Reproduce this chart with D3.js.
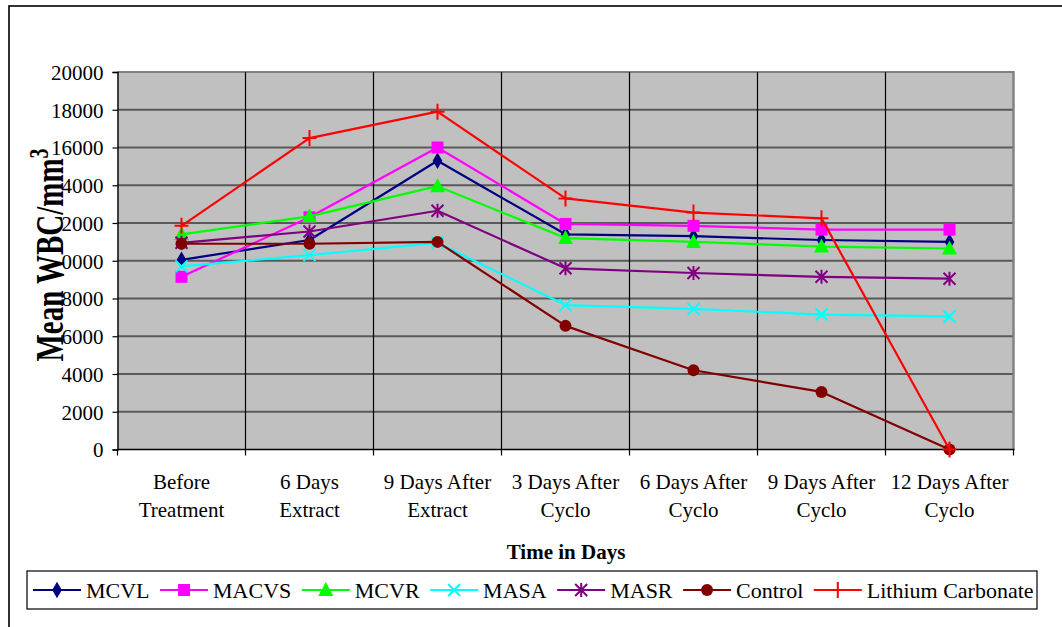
<!DOCTYPE html>
<html>
<head>
<meta charset="utf-8">
<script src="https://cdn.jsdelivr.net/npm/d3@7"></script>
<style>
  html, body { margin: 0; padding: 0; background: #fff; }
  svg { display: block; }
  text { font-family: "Liberation Serif", "Times New Roman", serif; fill: #000; }
</style>
</head>
<body>
<svg id="chart" width="1062" height="627"></svg>
<script>
// Time points on the x axis (two-line labels)
const categories = [
  ["Before", "Treatment"],
  ["6 Days", "Extract"],
  ["9 Days After", "Extract"],
  ["3 Days After", "Cyclo"],
  ["6 Days After", "Cyclo"],
  ["9 Days After", "Cyclo"],
  ["12 Days After", "Cyclo"]
];

// Mean WBC counts per group
const mcvl     = [10050, 11100, 15300, 11400, 11300, 11100, 11000];
const macvs    = [9150, 12300, 16000, 11950, 11850, 11650, 11650];
const mcvr     = [11400, 12350, 13950, 11200, 11000, 10750, 10650];
const masa     = [9700, 10300, 10950, 7650, 7450, 7150, 7050];
const masr     = [10950, 11550, 12650, 9600, 9350, 9150, 9050];
const control  = [10900, 10900, 11000, 6550, 4200, 3050, 0];
const lithium  = [11850, 16500, 17900, 13300, 12550, 12250, 0];

const yTicks = [0, 2000, 4000, 6000, 8000, 10000, 12000, 14000, 16000, 18000, 20000];
const yTickLabels = ["0", "2000", "4000", "6000", "8000", "10000", "12000", "14000", "16000", "18000", "20000"];

const series = [
  { name: "MCVL", values: mcvl, color: "#000080", marker: "diamond" },
  { name: "MACVS", values: macvs, color: "#FF00FF", marker: "square" },
  { name: "MCVR", values: mcvr, color: "#00FF00", marker: "triangle" },
  { name: "MASA", values: masa, color: "#00FFFF", marker: "x" },
  { name: "MASR", values: masr, color: "#800080", marker: "star" },
  { name: "Control", values: control, color: "#800000", marker: "circle" },
  { name: "Lithium Carbonate", values: lithium, color: "#FF0000", marker: "plus" }
];

const svg = d3.select("#chart");
const plot = { left: 117.5, right: 1013.5, top: 72, bottom: 449.5 };

// Outer chart frame (extends past the right and bottom edges)
svg.append("rect")
  .attr("x", 9).attr("y", 6)
  .attr("width", 1200).attr("height", 800)
  .attr("fill", "none").attr("stroke", "#000").attr("stroke-width", 1.6);

const x = d3.scaleBand().domain(d3.range(categories.length))
  .range([plot.left, plot.right]).padding(0);
const y = d3.scaleLinear().domain([0, 20000]).range([plot.bottom, plot.top]);
const cx = i => x(i) + x.bandwidth() / 2;

// Plot area background
svg.append("rect")
  .attr("x", plot.left).attr("y", plot.top)
  .attr("width", plot.right - plot.left).attr("height", plot.bottom - plot.top)
  .attr("fill", "#C0C0C0");

// Horizontal value gridlines
svg.append("g").selectAll("line").data(yTicks.slice(1)).join("line")
  .attr("x1", plot.left).attr("x2", plot.right)
  .attr("y1", d => y(d)).attr("y2", d => y(d))
  .attr("stroke", d => d === 20000 ? "#808080" : "#5a5a5a")
  .attr("stroke-width", 2);

// Vertical category gridlines
svg.append("g").selectAll("line").data(d3.range(1, categories.length)).join("line")
  .attr("x1", d => x(d)).attr("x2", d => x(d))
  .attr("y1", plot.top).attr("y2", plot.bottom)
  .attr("stroke", "#000").attr("stroke-width", 1.2);

// Right edge of the plot area
svg.append("line")
  .attr("x1", plot.right).attr("x2", plot.right)
  .attr("y1", plot.top - 1).attr("y2", plot.bottom)
  .attr("stroke", "#808080").attr("stroke-width", 2.4);

// Y axis
const yAxis = d3.axisLeft(y).tickValues(yTicks)
  .tickFormat((d, i) => yTickLabels[i]).tickSize(5).tickPadding(9);
const gy = svg.append("g").attr("transform", `translate(${plot.left},0)`).call(yAxis);
gy.select(".domain").attr("stroke", "#000").attr("stroke-width", 1.4);
gy.selectAll(".tick line").attr("stroke", "#000").attr("stroke-width", 1.2);
gy.selectAll(".tick text").style("font-size", "21px")
  .style("font-family", '"Liberation Serif", "Times New Roman", serif').attr("dy", "0.35em");

// X axis: ticks on category boundaries
const gx = svg.append("g");
gx.append("line").attr("x1", plot.left).attr("x2", plot.right + 1)
  .attr("y1", plot.bottom).attr("y2", plot.bottom)
  .attr("stroke", "#000").attr("stroke-width", 1.6);
gx.selectAll("line.tk").data(d3.range(0, categories.length + 1)).join("line")
  .attr("class", "tk")
  .attr("x1", d => d < categories.length ? x(d) : plot.right)
  .attr("x2", d => d < categories.length ? x(d) : plot.right)
  .attr("y1", plot.bottom).attr("y2", plot.bottom + 6)
  .attr("stroke", "#000").attr("stroke-width", 1.2);
const xl = gx.selectAll("text.cat").data(categories).join("text")
  .attr("class", "cat")
  .attr("text-anchor", "middle")
  .style("font-size", "21px");
xl.append("tspan").attr("x", (d, i) => cx(i)).attr("y", 489).text(d => d[0]);
xl.append("tspan").attr("x", (d, i) => cx(i)).attr("y", 517).text(d => d[1]);

// Axis titles
svg.append("text")
  .attr("x", 566).attr("y", 559)
  .attr("text-anchor", "middle")
  .style("font-size", "21px").style("font-weight", "bold")
  .text("Time in Days");

// Y title: rotated, glyphs stretched across the text direction, on a white backing
const ytg = svg.append("g").attr("transform", "translate(63,255) rotate(-90) scale(1,1.4)");
const ytBack = ytg.append("rect").attr("fill", "#fff");
const yt = ytg.append("text")
  .attr("text-anchor", "middle")
  .style("font-size", "29px").style("font-weight", "bold");
const ytMain = yt.append("tspan").text("Mean WBC/mm");
yt.append("tspan").attr("dy", "-0.55em").style("font-size", "20px").text("3");
const ytLen = yt.node().getComputedTextLength();
const ytMainLen = ytMain.node().getComputedTextLength();
ytBack.attr("x", -ytLen / 2).attr("y", -21).attr("width", ytMainLen).attr("height", 19.4);

// Marker drawing
function drawMarker(g, type, color) {
  switch (type) {
    case "diamond":
      g.append("path").attr("d", d3.symbol(d3.symbolDiamond, 80)()).attr("fill", color);
      break;
    case "square":
      g.append("rect").attr("x", -6).attr("y", -6).attr("width", 12).attr("height", 12).attr("fill", color);
      break;
    case "triangle":
      g.append("path").attr("d", "M0,-8 L7.5,6 L-7.5,6 Z").attr("fill", color);
      break;
    case "x":
      g.append("path").attr("d", "M-6,-6 L6,6 M-6,6 L6,-6")
        .attr("stroke", color).attr("stroke-width", 2).attr("fill", "none");
      break;
    case "star":
      g.append("path").attr("d", "M-6,-6 L6,6 M-6,6 L6,-6 M0,-7 L0,7")
        .attr("stroke", color).attr("stroke-width", 2).attr("fill", "none");
      break;
    case "circle":
      g.append("circle").attr("r", 6).attr("fill", color);
      break;
    case "plus":
      g.append("path").attr("d", "M-7,0 L7,0 M0,-8 L0,8")
        .attr("stroke", color).attr("stroke-width", 2).attr("fill", "none");
      break;
  }
}

// Series lines and markers
const line = d3.line().x((d, i) => cx(i)).y(d => y(d));
const sg = svg.append("g");
series.forEach(s => {
  const g = sg.append("g");
  g.append("path").datum(s.values).attr("d", line)
    .attr("fill", "none").attr("stroke", s.color).attr("stroke-width", 2.2)
    .attr("stroke-linejoin", "round");
  s.values.forEach((v, i) => {
    const m = g.append("g").attr("transform", `translate(${cx(i)},${y(v)})`);
    drawMarker(m, s.marker, s.color);
  });
});

// Legend
const legend = svg.append("g");
const legBox = legend.append("rect")
  .attr("x", 27).attr("y", 571).attr("width", 1010).attr("height", 38)
  .attr("fill", "#fff").attr("stroke", "#000").attr("stroke-width", 1.2);
let lx = 33;
const ly = 590;
series.forEach((s, i) => {
  const it = legend.append("g");
  it.append("line").attr("x1", lx).attr("x2", lx + 48).attr("y1", ly).attr("y2", ly)
    .attr("stroke", s.color).attr("stroke-width", 2.2);
  const m = it.append("g").attr("transform", `translate(${lx + 24},${ly})`);
  drawMarker(m, s.marker, s.color);
  const t = it.append("text").attr("x", lx + 53).attr("y", ly).attr("dy", "0.35em")
    .style("font-size", "22px").text(s.name);
  lx += 53 + t.node().getComputedTextLength() + (i < series.length - 1 ? 10.5 : 0);
});
legBox.attr("width", Math.max(lx + 3, 1037) - 27);
</script>
</body>
</html>
